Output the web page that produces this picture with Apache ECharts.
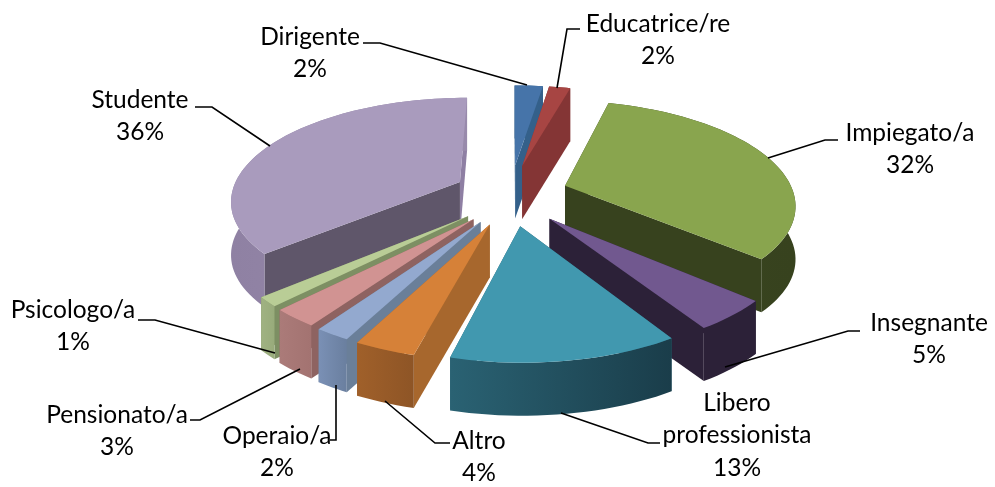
<!DOCTYPE html>
<html><head><meta charset="utf-8"><style>html,body{margin:0;padding:0;background:#fff}#c{width:995px;height:487px}</style>
<script src="https://cdn.jsdelivr.net/npm/echarts@6/dist/echarts.min.js"></script></head>
<body><div id="c"></div><script>
const categories = ['Dirigente','Educatrice/re','Impiegato/a','Insegnante','Libero professionista','Altro','Operaio/a','Pensionato/a','Psicologo/a','Studente'];
const values = [2.4,1.8,32.3,4.6,12.9,3.5,2.0,2.7,1.4,36.4];

// styles: top, outer wall (left→right), start-cut wall, end-cut wall
const topColors = ['#4674a9','#a74543','#89a54e','#71588f','#4198af','#d68138','#93a9cf','#d19392','#b9cd96','#a99bbd'];
const outerA = ['#34608a','#843535','#3a461f','#2c2138','#2a6273','#a0602a','#7a90b5','#ab7b79','#a0b282','#8f81a3'];
const outerB = ['#34608a','#843535','#37421e','#2c2138','#1a3d4a','#8e5526','#6a7f9f','#a37371','#98ab7b','#988aab'];
const cutColors = ['#34608a','#843535','#37421e','#2c2138','#2a6273','#a7672d','#6a7f99','#8e6361','#7d8f63','#5f566a'];
const cutSliver = '#8e7fa3';

// projection
const P = {cx:511, cy:194.5, A:229, B:102, k:0.165, ex:0.25, ey:0.3, D:53};
function proj(x,y,z){const s=1/(1-P.k*y);return [P.cx+P.A*x*s, P.cy+P.B*y*s+(z?P.D:0)];}

const total = values.reduce((a,b)=>a+b,0);
let acc=0;
const slices = values.map((v,i)=>{const a0=acc/total*2*Math.PI;acc+=v;const a1=acc/total*2*Math.PI;const m=(a0+a1)/2;
  return {i,a0,a1,m,ox:P.ex*Math.sin(m),oy:-P.ey*Math.cos(m)};});
const order = slices.slice().sort((a,b)=>a.oy-b.oy).map(s=>s.i);

function wedge(sl){const n=Math.max(6,Math.round((sl.a1-sl.a0)*30));const rim=[];
  for(let j=0;j<=n;j++){const t=sl.a0+(sl.a1-sl.a0)*j/n;rim.push([sl.ox+Math.sin(t),sl.oy-Math.cos(t)]);}
  return rim;}
function poly(pts,fill){return {type:'polygon',shape:{points:pts},style:{fill:fill,stroke:null}};}

function renderSlice(params){
  const i=order[params.dataIndex];const sl=slices[i];const rim=wedge(sl);const apex=[sl.ox,sl.oy];
  const quad=(a,b,c)=>({y:(a[1]+b[1])/2,el:poly([proj(a[0],a[1],0),proj(b[0],b[1],0),proj(b[0],b[1],1),proj(a[0],a[1],1)],c)});
  const isLast=i===values.length-1;
  const faces=[quad(apex,rim[0],cutColors[i]),quad(apex,rim[rim.length-1],isLast?cutSliver:cutColors[i])];
  const wallPts=rim.map(p=>proj(p[0],p[1],0)).concat(rim.slice().reverse().map(p=>proj(p[0],p[1],1)));
  faces.push({y:9,el:poly(wallPts,new echarts.graphic.LinearGradient(0,0,1,0,[{offset:0,color:outerA[i]},{offset:1,color:outerB[i]}]))});
  faces.sort((a,b)=>a.y-b.y);
  const topPts=[proj(apex[0],apex[1],0)].concat(rim.map(p=>proj(p[0],p[1],0)));
  return {type:'group',children:faces.map(f=>f.el).concat([poly(topPts,topColors[i])])};
}

// label placement: text centre, first-line y, leader polyline
const labelLayout = [
 {x:310,y:37,t:['Dirigente'],l:[[363,43],[380,43],[527,85]]},
 {x:658,y:24,t:['Educatrice/re'],l:[[580,29],[567,29],[557,88]]},
 {x:910,y:133,t:['Impiegato/a'],l:[[838,140],[825,140],[768,158]]},
 {x:929,y:323,t:['Insegnante'],l:[[860,331],[848,331],[725,367]]},
 {x:737,y:403,t:['Libero','professionista'],l:[[660,443],[648,443],[561,413]]},
 {x:479,y:441,t:['Altro'],l:[[450,443],[435,443],[385,401]]},
 {x:277,y:436,t:['Operaio/a'],l:[[330,440],[336,440],[336,385]]},
 {x:117,y:415,t:['Pensionato/a'],l:[[190,420],[200,420],[300,369]]},
 {x:73,y:310,t:['Psicologo/a'],l:[[138,320],[155,320],[275,353]]},
 {x:140,y:100,t:['Studente'],l:[[195,107],[212,107],[270,146]]}
];
function renderLabel(params){
  const i=params.dataIndex,L=labelLayout[i];
  const lines=L.t.concat([Math.round(values[i])+'%']);
  const kids=[{type:'polyline',shape:{points:L.l},style:{stroke:'#000',lineWidth:1.6,fill:null}}];
  lines.forEach((s,j)=>kids.push({type:'text',style:{text:s,x:L.x,y:L.y+j*32.5,align:'center',verticalAlign:'middle',fill:'#000',font:'24.5px Lato, "Open Sans", sans-serif'}}));
  return {type:'group',children:kids};
}

const chart=echarts.init(document.getElementById('c'),null,{renderer:'canvas'});
chart.setOption({animation:false,backgroundColor:'#fff',series:[
 {type:'custom',coordinateSystem:'none',silent:true,z:1,data:order.map(i=>values[i]),renderItem:renderSlice},
 {type:'custom',coordinateSystem:'none',silent:true,z:2,data:values.slice(),renderItem:renderLabel}
]});
</script></body></html>
